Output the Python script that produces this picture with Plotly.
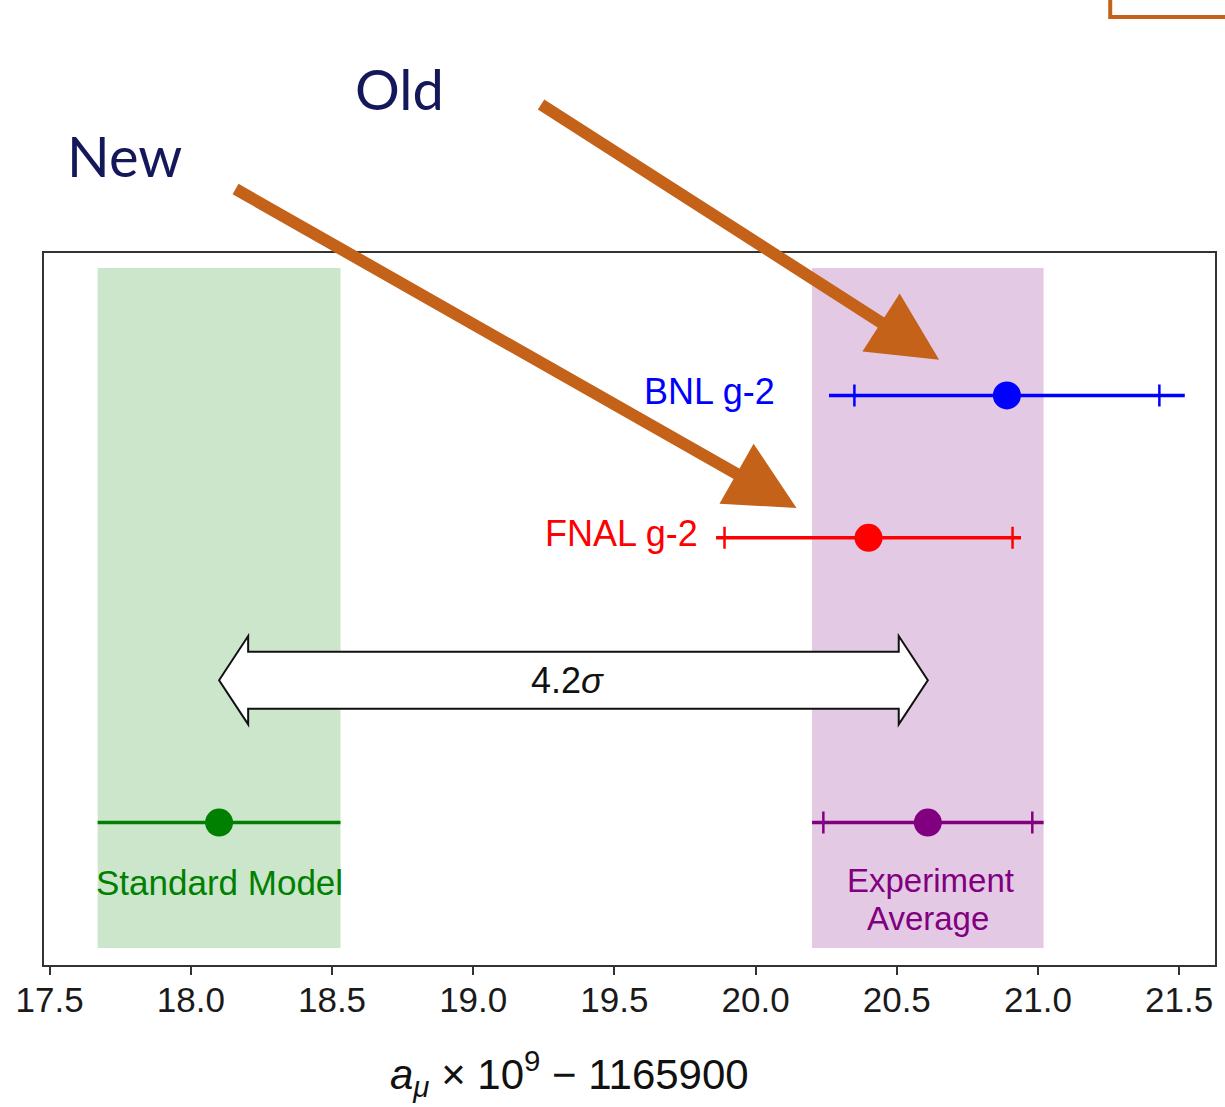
import plotly.graph_objects as go

# ---- data ----
labels = ["BNL g-2", "FNAL g-2", "Standard Model", "Experiment", "Average"]
values = [20.89, 20.40, 18.10, 20.61]
total_err = [0.63, 0.54, 0.43, 0.41]
inner_err = [0.54, 0.51, None, 0.37]
tension_label = "4.2<i>σ</i>"
x_ticks = [17.5, 18.0, 18.5, 19.0, 19.5, 20.0, 20.5, 21.0, 21.5]

# ---- layout constants ----
rows = [4, 3, 1, 1]
colors = ["#0000FF", "#FF0000", "#008000", "#800080"]
band_colors = {2: "rgba(0,128,0,0.20)", 3: "rgba(128,0,128,0.21)"}
ARROW = "#C5621A"
NAVY = "#14185A"
FONT = "Liberation Sans, Arial"

fig = go.Figure()

# shaded bands (SM and experiment average)
for i in (2, 3):
    fig.add_shape(type="rect", xref="x", yref="y",
                  x0=values[i] - total_err[i], x1=values[i] + total_err[i],
                  y0=0.12, y1=4.895, fillcolor=band_colors[i],
                  line_width=0, layer="below")

# measurement lines + inner ticks + dots
for i in range(len(values)):
    lo, hi = values[i] - total_err[i], values[i] + total_err[i]
    fig.add_trace(go.Scatter(x=[lo, hi], y=[rows[i], rows[i]], mode="lines",
                             line=dict(color=colors[i], width=3.5),
                             showlegend=False, hoverinfo="skip"))
    err = dict(visible=False)
    if inner_err[i] is not None:
        err = dict(type="data", array=[inner_err[i]], symmetric=True,
                   color=colors[i], thickness=2.5, width=11)
    fig.add_trace(go.Scatter(x=[values[i]], y=[rows[i]], mode="markers",
                             marker=dict(color=colors[i], size=28),
                             error_x=err, showlegend=False))

# text labels
fig.add_annotation(x=values[0] - total_err[0], y=rows[0], xref="x", yref="y",
                   text=labels[0], showarrow=False, xanchor="right", xshift=-52,
                   yshift=4, font=dict(family=FONT, size=36, color=colors[0]))
fig.add_annotation(x=values[1] - total_err[1], y=rows[1], xref="x", yref="y",
                   text=labels[1], showarrow=False, xanchor="right", xshift=-16,
                   yshift=4, font=dict(family=FONT, size=36, color=colors[1]))
fig.add_annotation(x=values[2], y=0.58, xref="x", yref="y", text=labels[2],
                   showarrow=False, xanchor="center", yanchor="middle",
                   font=dict(family=FONT, size=35, color=colors[2]))
fig.add_annotation(x=values[3] + 0.01, y=0.59, xref="x", yref="y", text=labels[3],
                   showarrow=False, xanchor="center", yanchor="middle",
                   font=dict(family=FONT, size=33, color=colors[3]))
fig.add_annotation(x=values[3] + 0.0, y=0.33, xref="x", yref="y", text=labels[4],
                   showarrow=False, xanchor="center", yanchor="middle",
                   font=dict(family=FONT, size=33, color=colors[3]))

# double-headed arrow between SM and experiment average
xa, xb = values[2], values[3]
hl = 0.103
yc, sh, hh = 2.0, 0.2, 0.31
path = (f"M {xa},{yc} L {xa+hl},{yc+hh} L {xa+hl},{yc+sh} L {xb-hl},{yc+sh} "
        f"L {xb-hl},{yc+hh} L {xb},{yc} L {xb-hl},{yc-hh} L {xb-hl},{yc-sh} "
        f"L {xa+hl},{yc-sh} L {xa+hl},{yc-hh} Z")
fig.add_shape(type="path", path=path, xref="x", yref="y",
              line=dict(color="#111111", width=2), fillcolor="white")
fig.add_annotation(x=(xa + xb) / 2 - 0.02, y=yc, xref="x", yref="y", text=tension_label,
                   showarrow=False, xanchor="center", yanchor="middle",
                   font=dict(family=FONT, size=36, color="#111111"))

# "Old" / "New" pointer arrows
fig.add_annotation(x=20.65, y=4.25, ax=19.235, ay=6.05, xref="x", yref="y",
                   axref="x", ayref="y", text="", showarrow=True, arrowhead=2,
                   arrowsize=1.15, arrowwidth=12, arrowcolor=ARROW, standoff=0)
fig.add_annotation(x=20.145, y=3.21, ax=18.153, ay=5.455, xref="x", yref="y",
                   axref="x", ayref="y", text="", showarrow=True, arrowhead=2,
                   arrowsize=1.15, arrowwidth=12, arrowcolor=ARROW, standoff=0)
fig.add_annotation(x=(400 - 43.5) / 1173.5, y=(965 - 88) / 712, xref="paper", yref="paper",
                   text="Old", showarrow=False, xanchor="center", yanchor="middle",
                   font=dict(family="Lato, Open Sans", size=56, color=NAVY))
fig.add_annotation(x=(124 - 43.5) / 1173.5, y=(965 - 155) / 712, xref="paper", yref="paper",
                   text="New", showarrow=False, xanchor="center", yanchor="middle",
                   font=dict(family="Lato, Open Sans", size=56, color=NAVY))

# partial orange frame at top right
fig.add_shape(type="path", xref="paper", yref="paper",
              path=f"M {(1112-43.5)/1173.5},{(965+5)/712} L {(1112-43.5)/1173.5},{(965-17)/712} "
                   f"L {(1230-43.5)/1173.5},{(965-17)/712}",
              line=dict(color=ARROW, width=4))

# axis title
fig.add_annotation(x=(570 - 43.5) / 1173.5, y=(965 - 1073) / 712, xref="paper", yref="paper",
                   text="<i>a</i><sub><i>μ</i></sub> × 10<sup>9</sup> − 1165900",
                   showarrow=False, xanchor="center", yanchor="middle",
                   font=dict(family=FONT, size=42, color="#111111"))

fig.update_layout(
    width=1225, height=1107,
    margin=dict(l=43.5, r=8, t=253, b=142),
    paper_bgcolor="white", plot_bgcolor="white",
    showlegend=False,
    xaxis=dict(range=[17.48, 21.627], tickvals=x_ticks,
               ticktext=[f"{v:.1f}" for v in x_ticks],
               ticks="outside", ticklen=8, tickwidth=2, tickcolor="#333333",
               ticklabelstandoff=-5,
               tickfont=dict(family=FONT, size=35, color="#1a1a1a"),
               showline=True, linecolor="#333333", linewidth=2, mirror=True,
               showgrid=False, zeroline=False),
    yaxis=dict(range=[0, 5], showticklabels=False, ticks="",
               showline=True, linecolor="#333333", linewidth=2, mirror=True,
               showgrid=False, zeroline=False),
)

fig.write_html("out.html")
